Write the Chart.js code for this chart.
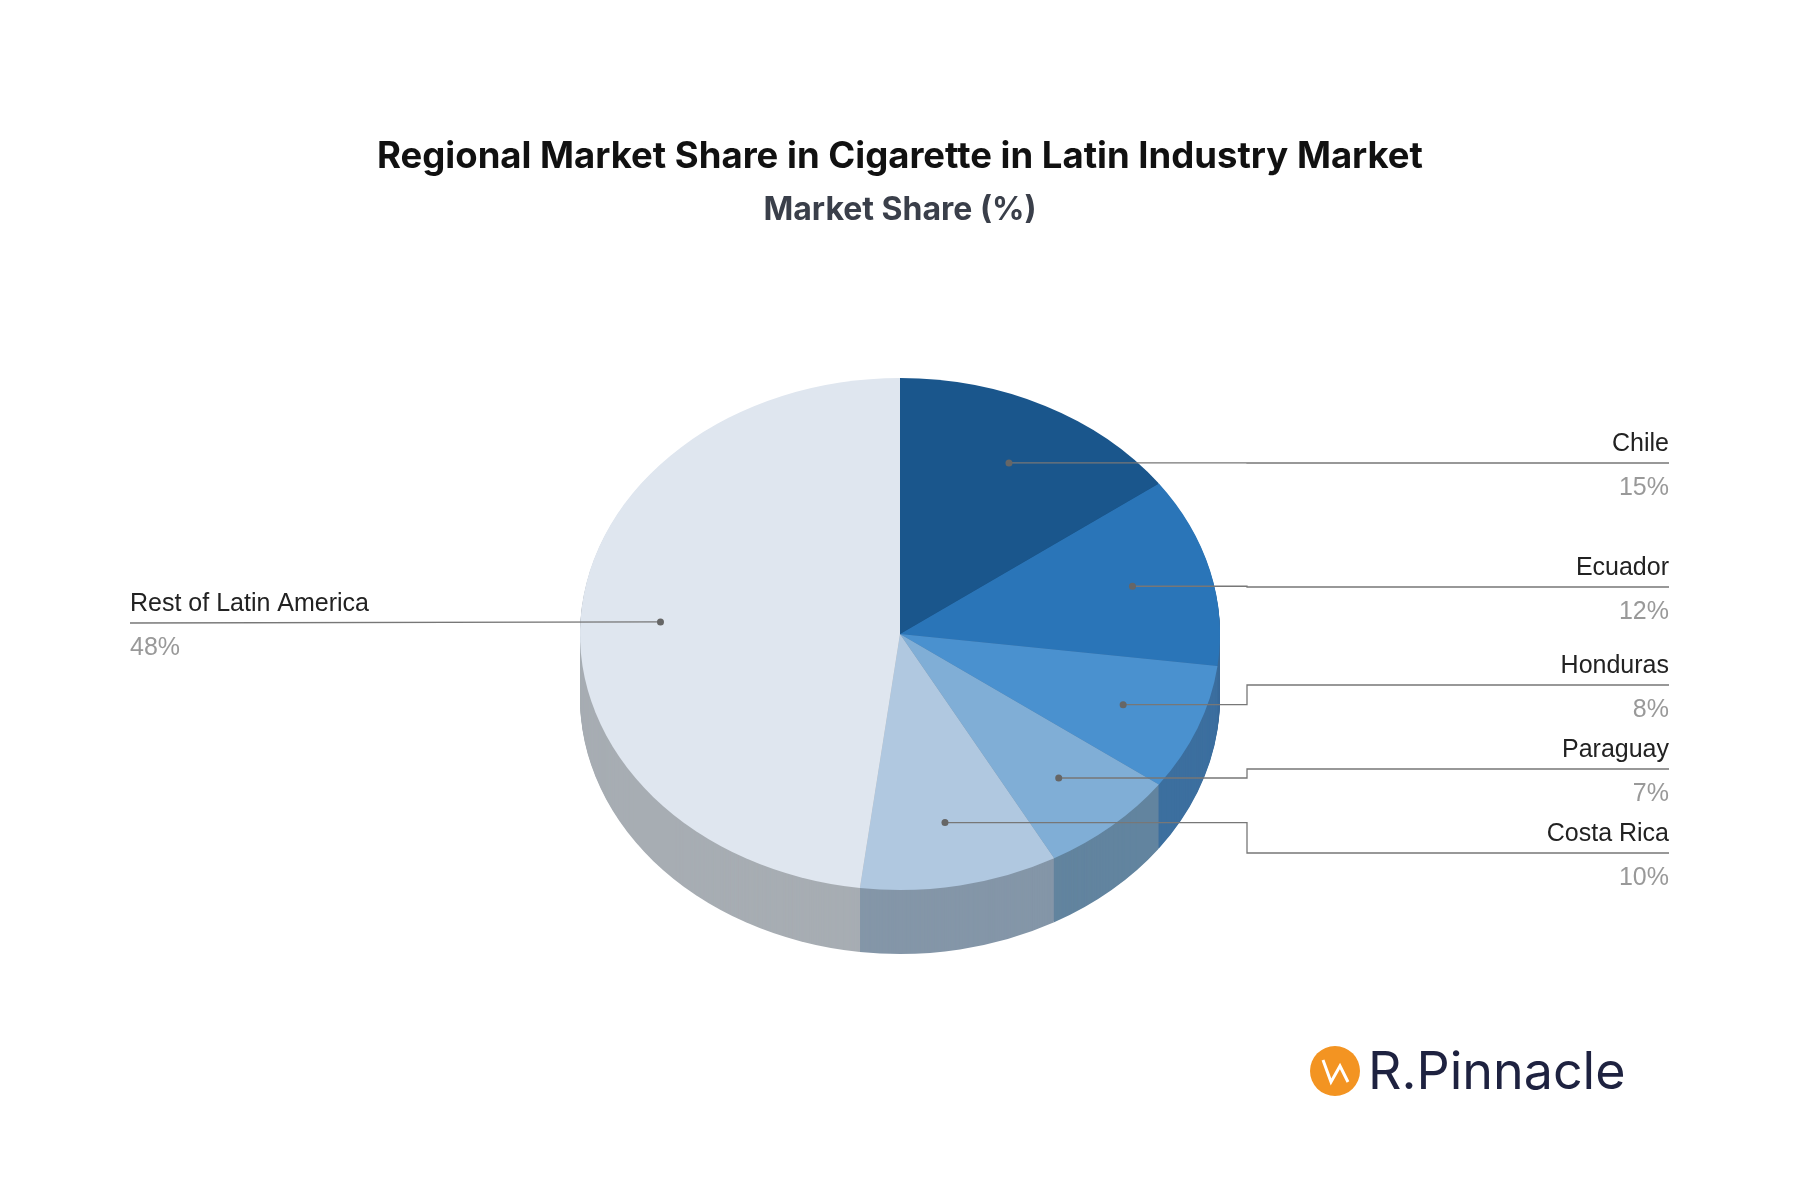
<!DOCTYPE html>
<html><head><meta charset="utf-8">
<script src="https://cdn.jsdelivr.net/npm/chart.js@4"></script>
<style>html,body{margin:0;background:#fff}#w{width:1800px;height:1196px}</style>
</head><body><div id="w"><canvas id="c"></canvas></div>
<script>
const categories=["Chile","Ecuador","Honduras","Paraguay","Costa Rica","Rest of Latin America"];
const shares=[15,12,8,7,10,48];
const topColors=["#1a568c","#2a75b8","#4a91cf","#80aed6","#b0c8e0","#dfe6ef"];
const sideColors=["#123f68","#3b6a99","#3c6f9f","#62849f","#8496a8","#a7adb3"];
const labelLineY=[463,587,685,769,853,623];
const SY=0.8, DEPTH=64;
const pie3d={id:'pie3d',
 beforeDatasetsDraw(chart){
  const ctx=chart.ctx, meta=chart.getDatasetMeta(0);
  const a0=meta.data[0], cx=a0.x, cy=a0.y;
  for(let d=DEPTH;d>=0;d--){
   ctx.save(); ctx.translate(0,d); ctx.translate(cx,cy); ctx.scale(1,SY); ctx.translate(-cx,-cy);
   meta.data.forEach((arc,i)=>{const o=arc.options.backgroundColor;arc.options.backgroundColor=d===0?topColors[i]:sideColors[i];arc.options.borderWidth=0;arc.draw(ctx);arc.options.backgroundColor=o;});
   ctx.restore();
  }
  meta.data.forEach((arc,i)=>{
   const mid=(arc.startAngle+arc.endAngle)/2, r=arc.outerRadius*0.75;
   const px=cx+r*Math.cos(mid), py=cy+r*SY*Math.sin(mid);
   const ly=labelLineY[i];
   ctx.strokeStyle='#777';ctx.lineWidth=1.3;ctx.beginPath();
   if(px>cx){ctx.moveTo(px,py);ctx.lineTo(1247,py);ctx.lineTo(1247,ly);ctx.lineTo(1669,ly);}
   else{ctx.moveTo(px,py);ctx.lineTo(130,ly);}
   ctx.stroke();
   ctx.fillStyle='#666';ctx.beginPath();ctx.arc(px,py,3.5,0,Math.PI*2);ctx.fill();
   ctx.font='25px "Liberation Sans", Arial';
   const right=px>cx; ctx.textAlign=right?'right':'left'; const tx=right?1669:130;
   ctx.fillStyle='#222';ctx.textBaseline='alphabetic';ctx.fillText(categories[i],tx,ly-12);
   ctx.fillStyle='#999';ctx.fillText(shares[i]+'%',tx,ly+32);
  });
  return false;
 },
 afterDraw(chart){
  const ctx=chart.ctx;ctx.save();ctx.textAlign='center';ctx.textBaseline='middle';
  ctx.fillStyle='#111';ctx.font='bold 36.5px Inter, "Noto Sans"';ctx.fillText('Regional Market Share in Cigarette in Latin Industry Market',900,157);
  ctx.fillStyle='#3a3f4a';ctx.font='bold 32px Inter, "Noto Sans"';ctx.fillText('Market Share (%)',900,210);
  ctx.fillStyle='#f39422';ctx.beginPath();ctx.arc(1335,1071,25,0,Math.PI*2);ctx.fill();
  ctx.strokeStyle='#fff';ctx.lineWidth=3;ctx.beginPath();ctx.moveTo(1323,1060);ctx.lineTo(1331,1082);ctx.lineTo(1340,1066);ctx.lineTo(1348,1082);ctx.stroke();
  ctx.fillStyle='#1e2240';ctx.font='52px Inter, "Noto Sans"';ctx.textAlign='left';ctx.fillText('R.Pinnacle',1368,1073);
  ctx.restore();
 }};
new Chart(document.getElementById('c'),{type:'pie',
 data:{labels:categories,datasets:[{data:shares,backgroundColor:topColors,borderWidth:0}]},
 options:{responsive:true,maintainAspectRatio:false,animation:false,events:[],
  layout:{padding:{top:314,bottom:242}},
  plugins:{legend:{display:false},tooltip:{enabled:false}}},
 plugins:[pie3d]});
</script></body></html>
